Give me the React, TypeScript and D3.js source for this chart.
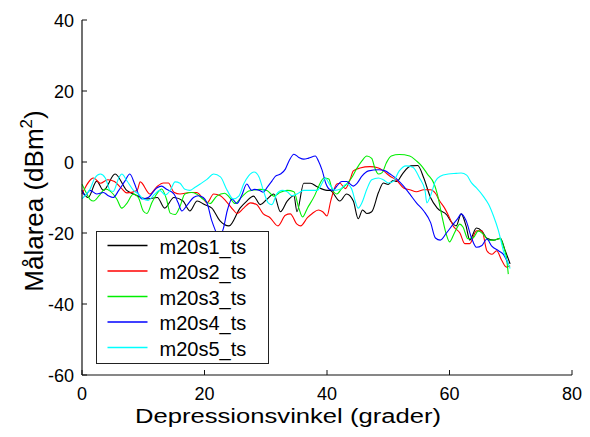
import React from "react";
import * as d3 from "d3";

const W = 590;
const H = 437;

const xTicks = [0, 20, 40, 60, 80];
const yTicks = [-60, -40, -20, 0, 20, 40];
const xTitle = "Depressionsvinkel (grader)";
const yTitle = "Målarea (dBm";

const seriesNames = ["m20s1_ts", "m20s2_ts", "m20s3_ts", "m20s4_ts", "m20s5_ts"];
const seriesColors = ["#000000", "#ff0000", "#00ee00", "#0000ff", "#00ffff"];

// [angle (deg), target area (dBm^2)]
const m20s1: [number, number][] = [
  [0, -8], [1, -10], [2.4, -5.4], [3.5, -8], [5.4, -3.4], [7.3, -8], [8.4, -9], [10.6, -10.4],
  [12.3, -10], [13.5, -13], [15, -10], [16.5, -11], [17.6, -13.8], [18.8, -11], [20, -12],
  [21.2, -13], [22.5, -16.5], [24, -18], [25.8, -13], [26.9, -11], [28, -9.6], [29.1, -12],
  [30.2, -10.5], [31.3, -9], [32.4, -14], [33.5, -11], [34.6, -9.5], [35.1, -14], [36.2, -6],
  [37.3, -6], [38.4, -7], [40, -8], [40.5, -8], [42.1, -11], [43.2, -9], [44.3, -11], [45.1, -16],
  [45.8, -13.5], [46.5, -14.5], [47.3, -14], [48.4, -8.6], [49.2, -5.9], [50, -6.3], [50.8, -5.2],
  [51.4, -5.5], [52.3, -3.4], [53.7, -1.1], [54.8, -1], [55.8, -4.5], [56.9, -10], [58, -13],
  [59.6, -15], [60.3, -16.9], [61.1, -18], [61.9, -14.6], [62.7, -18], [63.3, -22], [64.4, -18.6],
  [65.3, -19.5], [66.1, -21.5], [67.2, -22], [68.3, -21.5], [69.1, -25], [69.9, -28.7],
];

const m20s2: [number, number][] = [
  [0, -9], [1.9, -4.5], [3, -6], [4.2, -5], [5.3, -5.5], [6.5, -7.5], [7.3, -8.7], [9, -8],
  [9.5, -5.6], [11.1, -9], [12.2, -7], [13.3, -5.9], [14.1, -5.9], [15, -8.5], [16, -9],
  [17.6, -8.6], [18.7, -8.6], [19.8, -10.4], [20.4, -11.5], [21.5, -9], [22.6, -9.5], [23.5, -11],
  [24.7, -13.5], [25.3, -14.5], [26.4, -13], [27.5, -11.5], [28.5, -12], [29.6, -14.6],
  [30.7, -15.7], [32, -18], [33.2, -15], [34, -14.6], [35.1, -17.5], [35.7, -18], [36.8, -15.7],
  [37.6, -14.5], [38.6, -13.5], [39.3, -14], [40, -15.2], [40.6, -11], [41.6, -6.2], [42.1, -6],
  [43, -7.5], [43.8, -4.8], [44.3, -2.5], [45.4, -1.7], [47, -1.3], [48.4, -1.7], [49.2, -2.5],
  [50.3, -4], [51.4, -5.2], [52.5, -7.3], [53.5, -7.8], [54.6, -8.4], [55.8, -7.8], [56.9, -7.8],
  [57.7, -8.8], [58.4, -11], [59.2, -13], [60, -15.7], [60.6, -18], [61.7, -20], [62.5, -23],
  [63.3, -23], [64.4, -19.4], [65.3, -19.4], [66.1, -25], [66.9, -26], [67.7, -25], [68.5, -27.6],
  [69.3, -29.6], [69.9, -29.2],
];

const m20s3: [number, number][] = [
  [0, -6.3], [0.5, -8], [1.3, -10.5], [1.9, -11], [2.8, -9.5], [3.8, -7.6], [4.6, -8.2],
  [5.7, -10.5], [6.5, -13], [7.3, -11.7], [8.4, -9], [9.2, -10], [10, -13.8], [10.6, -14.5],
  [11.4, -11.5], [12.2, -9], [13, -7.6], [13.8, -10.5], [14.4, -14.4], [15.2, -14.8], [16, -12.5],
  [16.8, -9], [17.9, -8.6], [18.7, -9], [19.8, -10.5], [20.9, -11.7], [22, -9.6], [23.3, -8.8],
  [24.1, -10], [25, -11.7], [26.1, -9.8], [27.2, -8.2], [28, -7.9], [29.1, -7.7], [30.2, -8],
  [31.3, -9.6], [32.4, -8.5], [33.5, -8], [34.6, -8.4], [35.4, -13], [36, -15.5], [36.8, -13],
  [38, -9.4], [38.6, -7], [39.5, -4.5], [40.3, -4.8], [40.8, -7.5], [41.6, -9], [42.4, -7.5],
  [43.2, -6.2], [44, -4.5], [44.8, -2], [45.7, 0.3], [46.5, 1.7], [47.3, 1], [47.8, -1.6],
  [48.4, -3.4], [49, -3], [49.7, -0.2], [50.5, 1.7], [51.8, 2.1], [53.5, 1.7], [54.6, 0.3],
  [55.4, -1], [56.4, -3.4], [57.5, -6.2], [58, -9], [58.8, -15.5], [59.5, -20.5], [60, -22.5],
  [60.8, -20], [61.7, -17.5], [62.2, -18.3], [63, -21.6], [63.9, -21.3], [64.7, -19.4],
  [65.5, -20.3], [66.4, -22], [67.2, -22], [68.3, -21.5], [68.8, -23.7], [69.3, -27], [69.6, -31.6],
];

const m20s4: [number, number][] = [
  [0, -8], [0.5, -9.5], [1.3, -8], [2.4, -9], [3.5, -8.6], [4.3, -9.5], [5.1, -10], [6, -8],
  [7, -5.4], [7.8, -3.4], [8.6, -6.2], [9.2, -9], [9.8, -10.4], [10.8, -10], [12.2, -7.3],
  [13, -6.8], [13.8, -7.7], [15, -9], [15.7, -11.5], [16.3, -13.8], [17.1, -12.3], [18.2, -10],
  [19, -9.5], [19.8, -10], [20.4, -11.5], [21.2, -16.6], [21.8, -19.4], [22.3, -21.4],
  [23.1, -18.6], [23.7, -13.8], [24.5, -10.4], [25.3, -11.7], [26.1, -9.3], [26.9, -6.2],
  [27.7, -8], [28.1, -7.7], [29, -8], [29.6, -8.5], [30.2, -7.2], [31, -5.4], [31.6, -4],
  [32.4, -3.4], [33.2, -2], [33.8, 0.3], [34.6, 2.2], [35.4, 1.3], [36.2, 0.8], [37, 1.1],
  [38.1, 1.7], [38.6, 0.3], [39.2, -2.3], [39.8, -6], [40.4, -7.7], [41, -8], [41.6, -6.8],
  [42.4, -5.5], [43.2, -5.5], [44.3, -6.8], [44.9, -6], [45.7, -4], [46.8, -2.5], [48.4, -2.2],
  [49.5, -2.5], [50.3, -3.4], [51.4, -4.8], [52.5, -6.8], [53.5, -9], [54.6, -11.5], [55.8, -13.8],
  [56.9, -17], [57.7, -21.4], [58.5, -22], [59.5, -20], [60.6, -17.5], [61.4, -15.8],
  [61.9, -14.6], [62.7, -16.5], [63.6, -21.4], [64.4, -24], [65.3, -23.5], [66.1, -21.7],
  [66.9, -23.7], [68, -25], [68.8, -26], [69.6, -28.7],
];

const m20s5: [number, number][] = [
  [0, -10.4], [0.5, -9.5], [1.3, -7.7], [2.1, -4.5], [3, -3.4], [3.8, -4.5], [4.6, -8], [5.1, -8.3],
  [6, -4.5], [6.5, -3.4], [7.3, -5.2], [8.4, -8], [9.2, -9], [10, -10.4], [10.8, -10.8],
  [11.9, -9], [12.7, -8], [13.6, -9.3], [14.4, -8], [15.2, -5.6], [16, -6], [16.8, -7.7],
  [17.6, -8], [18.4, -7.2], [19.3, -6.2], [20.4, -4.9], [21.5, -3.4], [22.6, -4.2], [23.7, -8],
  [24.7, -10.4], [25.6, -9.6], [26.4, -6.2], [27.2, -3.9], [28.1, -2.8], [28.9, -4.2], [29.6, -8],
  [30.4, -11.5], [31, -12], [31.8, -9], [32.7, -8], [33.5, -8.4], [34.3, -9.5], [35.1, -9],
  [36.2, -8], [37.3, -8], [38.4, -8], [39.2, -6], [39.7, -4.5], [40.5, -6.5], [41.3, -8],
  [42.1, -7.7], [43.2, -6.2], [44, -7.5], [44.6, -11], [45.1, -13], [45.7, -11.5], [46.5, -7.7],
  [47.3, -5], [48.4, -4.5], [49.2, -5], [50, -5.9], [50.8, -5.5], [51.8, -2.5], [52.9, -1.1],
  [54, -1.5], [55.1, -4.5], [56, -8], [56.3, -11.5], [56.9, -9.5], [57.7, -5.4], [58.5, -4],
  [59.8, -3.4], [61.1, -3.2], [61.9, -3.1], [62.8, -3.7], [63.6, -5.9], [64.4, -7.3], [65.5, -9.6],
  [66.4, -12], [67.2, -15.3], [68, -19.4], [68.8, -25], [69.6, -28.7], [69.9, -30],
];

const allSeries = [m20s1, m20s2, m20s3, m20s4, m20s5];

export default function App() {
  const left = 82;
  const right = 572;
  const top = 20;
  const bottom = 375;
  const x = d3.scaleLinear().domain([0, 80]).range([left, right]);
  const y = d3.scaleLinear().domain([-60, 40]).range([bottom, top]);
  const line = d3
    .line<[number, number]>()
    .x((d) => x(d[0]))
    .y((d) => y(d[1]))
    .curve(d3.curveMonotoneX);

  const font = "Arial, 'Liberation Sans', Helvetica, sans-serif";
  const legX = 96.5;
  const legY = 231.5;
  const legW = 172;
  const legH = 132;
  const rowH = 25.5;

  return (
    <svg
      width={W}
      height={H}
      style={{ position: "absolute", left: 0, top: 0, background: "#fff" }}
      fontFamily={font}
    >
      <rect x={0} y={0} width={W} height={H} fill="#fff" />
      {allSeries.map((s, i) => (
        <path key={i} d={line(s) || ""} fill="none" stroke={seriesColors[i]} strokeWidth={1.1} />
      ))}
      {/* axes */}
      <line x1={left} x2={left} y1={top} y2={bottom} stroke="#111" strokeWidth={1.2} />
      <line x1={left} x2={right} y1={bottom} y2={bottom} stroke="#111" strokeWidth={1.2} />
      {yTicks.map((t) => (
        <g key={"y" + t}>
          <line x1={left} x2={left + 5} y1={y(t)} y2={y(t)} stroke="#111" />
          <text x={left - 8} y={y(t) + 6.5} textAnchor="end" fontSize={18} fill="#000">
            {t}
          </text>
        </g>
      ))}
      {xTicks.map((t) => (
        <g key={"x" + t}>
          <line x1={x(t)} x2={x(t)} y1={bottom} y2={bottom - 5} stroke="#111" />
          <text x={x(t)} y={bottom + 25} textAnchor="middle" fontSize={18} fill="#000">
            {t}
          </text>
        </g>
      ))}
      <text
        x={288}
        y={423}
        textAnchor="middle"
        fontSize={20}
        textLength={306}
        lengthAdjust="spacingAndGlyphs"
        fill="#000"
      >
        {xTitle}
      </text>
      <text
        transform="translate(43,201) rotate(-90)"
        textAnchor="middle"
        fontSize={26}
        fill="#000"
      >
        {yTitle}
        <tspan fontSize={17} dy={-11}>2</tspan>
        <tspan dy={11}>)</tspan>
      </text>
      {/* legend */}
      <rect x={legX} y={legY} width={legW} height={legH} fill="#fff" stroke="#222" strokeWidth={1} />
      {seriesNames.map((n, i) => {
        const ly = legY + 14 + i * rowH;
        return (
          <g key={n}>
            <line
              x1={legX + 11}
              x2={legX + 51}
              y1={ly}
              y2={ly}
              stroke={seriesColors[i]}
              strokeWidth={1.6}
            />
            <text x={legX + 63} y={ly + 8} fontSize={20} fill="#000">
              {n}
            </text>
          </g>
        );
      })}
    </svg>
  );
}
